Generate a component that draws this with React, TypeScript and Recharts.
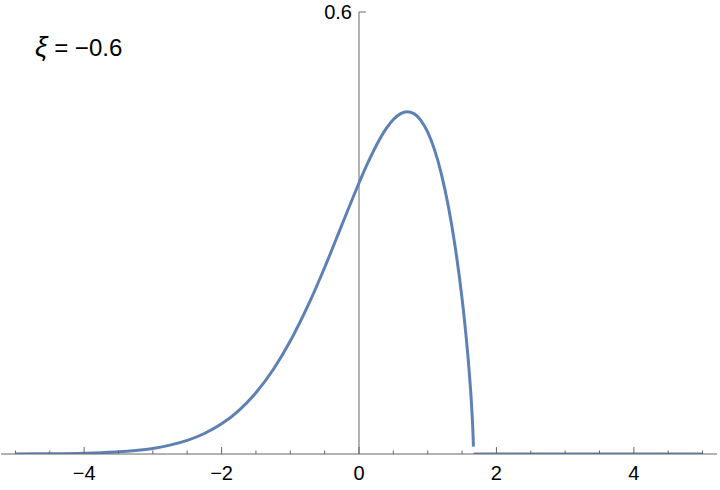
import React from 'react';
import { LineChart, Line, XAxis, YAxis, ReferenceLine } from 'recharts';

// x positions and GEV density (shape ξ = −0.6)
const xValues = [
  -5, -4.5, -4, -3.75, -3.5, -3.25, -3, -2.75, -2.5, -2.25, -2, -1.75, -1.5, -1.25,
  -1, -0.75, -0.5, -0.25, 0, 0.1, 0.25, 0.4, 0.5, 0.6, 0.7, 0.8, 0.9, 1.0, 1.1,
  1.2, 1.3, 1.4, 1.5, 1.55, 1.6, 1.63, 1.65, 1.66, 1.665, 1.666, 1.6667, 5,
];
const density: (number | null)[] = [
  0.0001, 0.0003, 0.001, 0.0018, 0.0029, 0.0048, 0.0076, 0.012, 0.0184, 0.0278,
  0.0409, 0.059, 0.0832, 0.1144, 0.1533, 0.1999, 0.2532, 0.3107, 0.3679, 0.3894,
  0.4185, 0.4423, 0.454, 0.4617, 0.4646, 0.462, 0.453, 0.4369, 0.4128, 0.3797,
  0.3364, 0.2811, 0.2109, 0.1678, 0.1164, 0.0784, 0.0464, 0.0252, 0.01, null, 0, 0,
];
const xTicks = [
  -5, -4.5, -4, -3.5, -3, -2.5, -2, -1.5, -1, -0.5, 0, 0.5, 1, 1.5, 2, 2.5, 3, 3.5,
  4, 4.5, 5,
];
const labeledTicks = [-4, -2, 0, 2, 4];
const yTickValue = 0.6;
const panelSymbol = 'ξ';
const panelValue = ' = −0.6';

const data = xValues.map((x, i) => ({ x, y: density[i] }));

const AXIS = '#666666';
const CURVE = '#5E81B5';

const AxisTick = (props: any) => {
  const { x, y, payload } = props;
  const v: number = payload.value;
  const major = labeledTicks.includes(v);
  const len = major ? 7 : 3.5;
  const text = v < 0 ? '−' + Math.abs(v) : String(v);
  return (
    <g>
      <line x1={x} x2={x} y1={y} y2={y - len} stroke={AXIS} strokeWidth={1} />
      {major && (
        <text x={x} y={y + 26} textAnchor="middle" fontSize={20} fill="#000">
          {text}
        </text>
      )}
    </g>
  );
};

export default function App() {
  return (
    <div
      style={{
        position: 'absolute',
        left: 0,
        top: 0,
        width: 720,
        height: 490,
        background: '#fff',
        fontFamily: '"Liberation Sans", Arial, sans-serif',
      }}
    >
      <LineChart
        width={720}
        height={490}
        data={data}
        margin={{ top: 12, right: 3, bottom: 0, left: 1 }}
      >
        <XAxis
          dataKey="x"
          type="number"
          domain={[-5.21, 5.21]}
          ticks={xTicks}
          interval={0}
          height={36}
          tickSize={0}
          tickMargin={0}
          tickLine={false}
          axisLine={{ stroke: AXIS, strokeWidth: 1 }}
          tick={<AxisTick />}
          allowDataOverflow
        />
        <YAxis hide type="number" domain={[0, 0.6]} allowDataOverflow />
        <ReferenceLine x={0} stroke={AXIS} strokeWidth={1} />
        <ReferenceLine
          segment={[
            { x: 0, y: yTickValue },
            { x: 0.1, y: yTickValue },
          ]}
          stroke={AXIS}
          strokeWidth={1}
          label={{ value: String(yTickValue), position: 'left', offset: 7, fill: '#000', fontSize: 20 }}
        />
        <Line
          dataKey="y"
          type="monotone"
          stroke={CURVE}
          strokeWidth={3}
          dot={false}
          activeDot={false}
          connectNulls={false}
          isAnimationActive={false}
        />
      </LineChart>
      <svg
        width={720}
        height={490}
        style={{ position: 'absolute', left: 0, top: 0, pointerEvents: 'none' }}
      >
        <text x={35} y={56} fill="#000" fontSize={24} style={{ whiteSpace: 'pre' }}>
          <tspan fontSize={28} fontStyle="italic">{panelSymbol}</tspan>
          <tspan>{panelValue}</tspan>
        </text>
      </svg>
    </div>
  );
}
